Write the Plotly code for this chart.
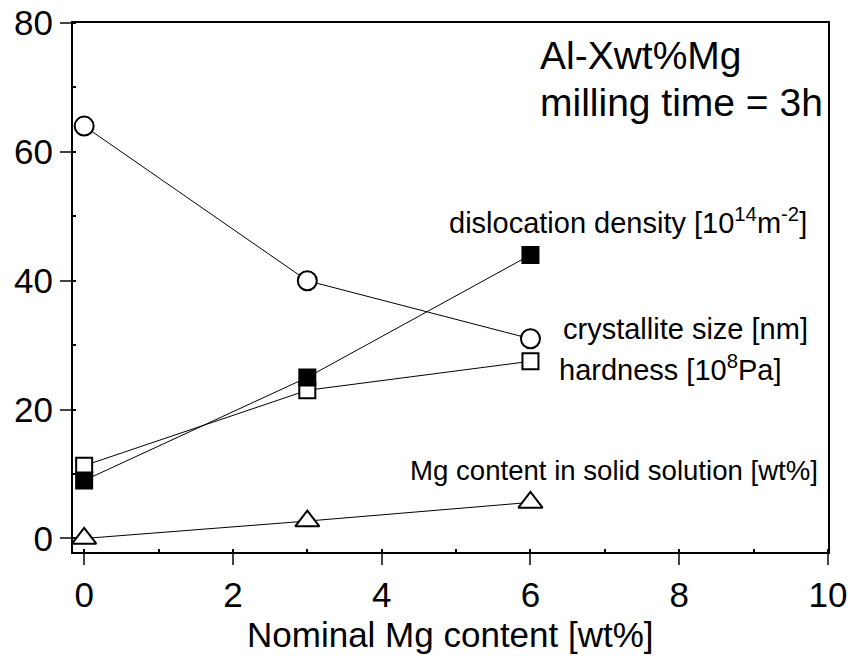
import plotly.graph_objects as go

x_mg = [0, 3, 6]
crystallite = [64, 40, 31]
dislocation = [9, 25, 44]
hardness = [11.3, 23, 27.5]
mg_solid = [0, 2.7, 5.6]

x_ticks = [0, 2, 4, 6, 8, 10]
y_ticks = [0, 20, 40, 60, 80]

FONT = "Liberation Sans, Arial, sans-serif"

fig = go.Figure()

def add(y, symbol, size, fill):
    fig.add_trace(go.Scatter(
        x=x_mg, y=y, mode="lines+markers",
        line=dict(color="black", width=1),
        marker=dict(symbol=symbol, size=size, color=fill,
                    line=dict(color="black", width=2)),
        showlegend=False, cliponaxis=False))

add(mg_solid, "triangle-up", 21, "white")
add(hardness, "square", 16, "white")
add(dislocation, "square", 16, "black")
add(crystallite, "circle", 19, "white")

fig.update_xaxes(range=[-0.15, 10], tickvals=x_ticks, ticks="outside", ticklen=11, tickwidth=2,
                 showline=True, linewidth=2, linecolor="black", mirror=True, showgrid=False, zeroline=False,
                 automargin=False,
                 tickfont=dict(size=35, family=FONT, color="black"),
                 minor=dict(dtick=1, tick0=0, ticks="inside", ticklen=3, tickwidth=2, tickcolor="black"))
fig.update_yaxes(range=[-2.1, 80], tickvals=y_ticks, ticks="outside", ticklen=11, tickwidth=2,
                 showline=True, linewidth=2, linecolor="black", mirror=True, showgrid=False, zeroline=False,
                 automargin=False,
                 tickfont=dict(size=35, family=FONT, color="black"),
                 minor=dict(dtick=10, tick0=0, ticks="inside", ticklen=3, tickwidth=2, tickcolor="black"))

fig.add_annotation(x=0.5, xref="paper", y=-0.156, yref="paper", text="Nominal Mg content [wt%]",
                   showarrow=False, xanchor="center", yanchor="middle",
                   font=dict(size=35, family=FONT, color="black"))

ann = [
    (6.1, 74.9, "Al-Xwt%Mg", 39),
    (6.1, 67.6, "milling time = 3h", 39),
]
for x, y, t, s in ann:
    fig.add_annotation(x=x, y=y, text=t, showarrow=False, xanchor="left", yanchor="middle",
                       font=dict(size=s, family=FONT, color="black"))

labels = [
    (4.88, 49.3, "dislocation density [10<sup>14</sup>m<sup>-2</sup>]", 29),
    (6.41, 32.5, "crystallite size [nm]", 29),
    (6.36, 26.4, "hardness [10<sup>8</sup>Pa]", 29),
    (4.36, 10.6, "Mg content in solid solution [wt%]", 27.6),
]
for x, y, t, s in labels:
    fig.add_annotation(x=x, y=y, text=t, showarrow=False, xanchor="left", yanchor="middle",
                       font=dict(size=s, family=FONT, color="black"))

fig.update_layout(width=850, height=656, plot_bgcolor="white", paper_bgcolor="white",
                  margin=dict(l=73, r=22, t=23, b=104, autoexpand=False))

fig.write_html("out.html")
